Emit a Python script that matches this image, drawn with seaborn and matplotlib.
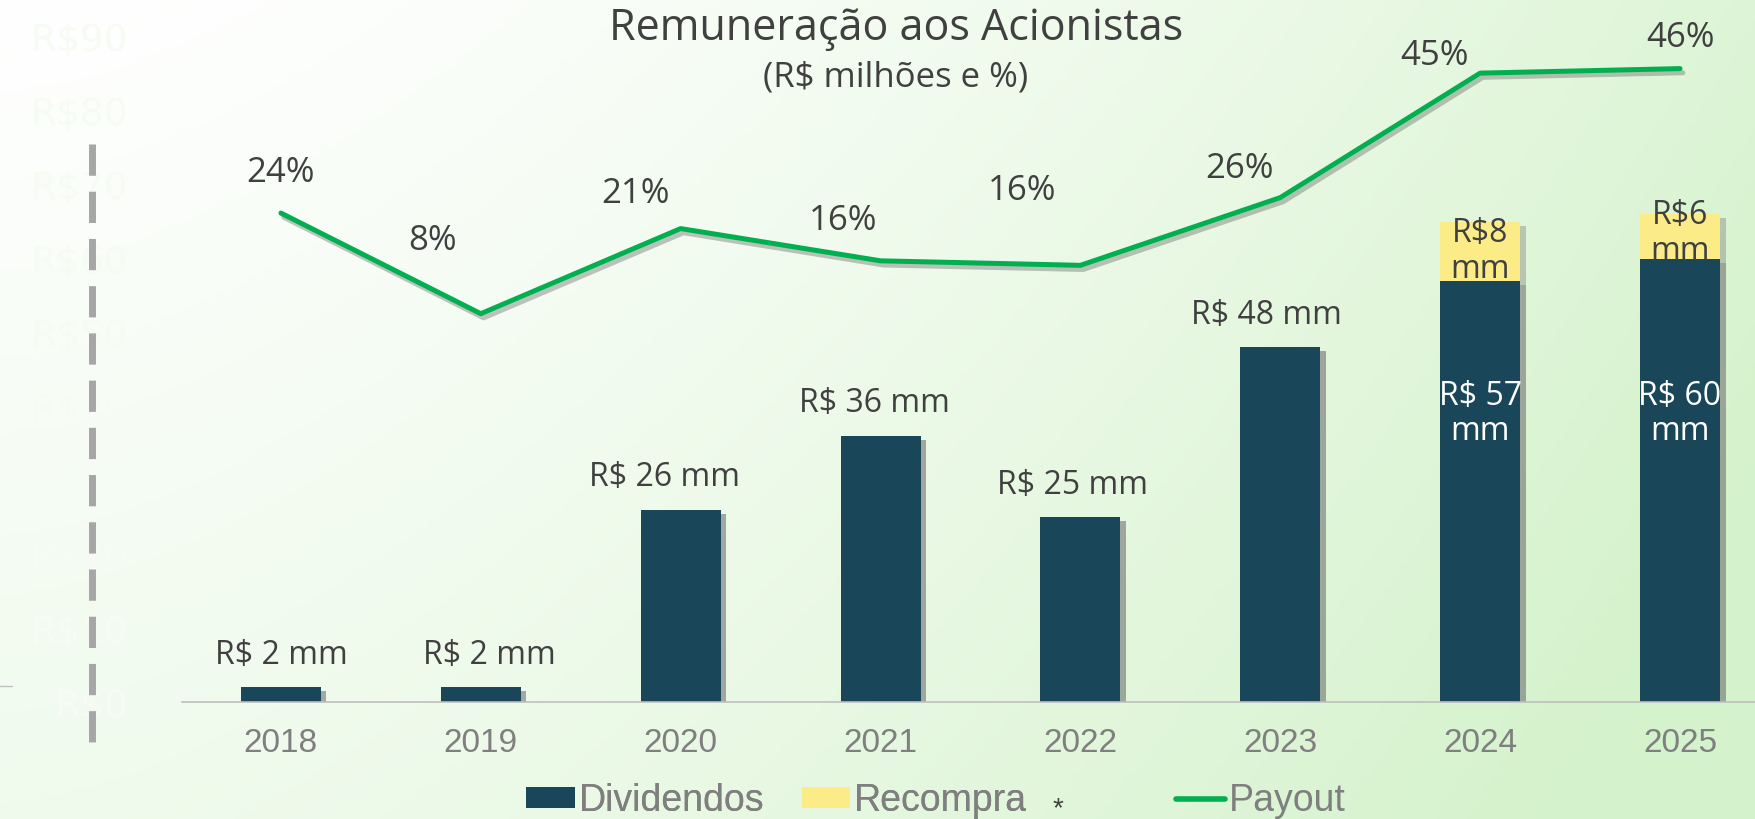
import numpy as np
import pandas as pd
import matplotlib
matplotlib.use("Agg")
import matplotlib.pyplot as plt
import seaborn as sns
from matplotlib import patheffects as pe
from matplotlib.lines import Line2D
from matplotlib.patches import Patch
from matplotlib import font_manager as fm

# ---------------- data ----------------
years = ["2018", "2019", "2020", "2021", "2022", "2023", "2024", "2025"]
dividendos = [2, 2, 26, 36, 25, 48, 57, 60]
recompra = [0, 0, 0, 0, 0, 0, 8, 6]
payout = [23.6, 8.0, 21.2, 16.2, 15.5, 26.0, 45.3, 46.0]
payout_labels = ["24%", "8%", "21%", "16%", "16%", "26%", "45%", "46%"]
div_labels = ["R$ 2 mm", "R$ 2 mm", "R$ 26 mm", "R$ 36 mm", "R$ 25 mm",
              "R$ 48 mm", "R$ 57\nmm", "R$ 60\nmm"]
rec_labels = ["", "", "", "", "", "", "R$8\nmm", "R$6\nmm"]
yticks = [0, 10, 20, 30, 40, 50, 60, 70, 80, 90]
ytick_labels = ["R$0", "R$10", "R$20", "R$30", "R$40", "R$50",
                "R$60", "R$70", "R$80", "R$90"]
legend_labels = ["Dividendos", "Recompra", "Payout"]
title = "Remuneração aos Acionistas"
subtitle = "(R$ milhões e %)"

# ---------------- style ----------------
TEAL = "#194759"
YELLOW = "#FBEC87"
GREEN = "#00B050"
DARK = "#404040"
GREY = "#7F7F7F"

sns.set_theme(style="white")
avail = {f.name for f in fm.fontManager.ttflist}
LABEL_FONT = ["Open Sans", "DejaVu Sans"]
TICK_FONT = ["Liberation Sans", "DejaVu Sans"]
LEG_FONT = ["Liberation Sans Narrow", "Liberation Sans", "DejaVu Sans"] \
    if "Liberation Sans Narrow" in avail else ["Liberation Sans", "DejaVu Sans"]
plt.rcParams["font.family"] = LABEL_FONT

W, H = 1756, 819
fig = plt.figure(figsize=(W / 100, H / 100), dpi=100)
fig.patch.set_facecolor("white")

# background gradient
bg = fig.add_axes([0, 0, 1, 1], zorder=-10)
gx, gy = np.meshgrid(np.linspace(0, 1, 400), np.linspace(0, 1, 200))
t = np.clip(0.8 * gx ** 1.6 + 0.36 * gy, 0, 1)[..., None]
white = np.array([1.0, 1.0, 1.0])
green = np.array([0.835, 0.95, 0.80])
img = white * (1 - t) + green * t
bg.imshow(img, extent=[0, 1, 0, 1], aspect="auto", origin="upper")
bg.axis("off")

# main axes
left = 182 / W
bottom = (H - 702) / H
ax = fig.add_axes([left, bottom, 1 - left, 665 / H], zorder=1)
ax.set_facecolor("none")

df = pd.DataFrame({"ano": years, "div": dividendos,
                   "total": np.add(dividendos, recompra)})
sns.barplot(data=df, x="ano", y="total", color=YELLOW, saturation=1,
            width=0.4, errorbar=None, ax=ax)
sns.barplot(data=df, x="ano", y="div", color=TEAL, saturation=1,
            width=0.4, errorbar=None, ax=ax)
for p in ax.patches:
    p.set_linewidth(0)
    p.set_path_effects([pe.SimplePatchShadow(offset=(4, -3), shadow_rgbFace="#6d6d6d",
                                             alpha=0.35), pe.Normal()])

ax.set_ylim(0, 90)
ax.set_xlim(-0.495, 7.38)
ax.set_xlabel("")
ax.set_ylabel("")
for s in ["top", "right", "left"]:
    ax.spines[s].set_visible(False)
ax.spines["bottom"].set_color("#BFBFBF")
ax.spines["bottom"].set_linewidth(1.2)
ax.set_yticks(yticks, ytick_labels)
ax.tick_params(axis="y", length=0, pad=39, labelsize=27,
               labelcolor=(0.965, 0.99, 0.955))
for lab in ax.get_yticklabels():
    lab.set_family("DejaVu Sans")
ax.tick_params(axis="x", length=0, pad=19, labelsize=24, labelcolor=GREY)
for lab in ax.get_xticklabels():
    lab.set_family(TICK_FONT)

# bar labels
bar_label_dx = [0, 9, -16, -6, -8, -14, 0, 0]
for i, (d, r) in enumerate(zip(dividendos, recompra)):
    if r > 0:
        ax.text(i, 39, div_labels[i], ha="center", va="center", color="white",
                fontsize=23, linespacing=1.1)
        ax.annotate(rec_labels[i], (i, d + r / 2), xytext=(0, 3 if i == 7 else 0),
                    textcoords="offset pixels", ha="center", va="center",
                    color=DARK, fontsize=23, linespacing=1.1)
    else:
        ax.annotate(div_labels[i], (i, d), xytext=(bar_label_dx[i], 32),
                    textcoords="offset pixels", ha="center", va="center",
                    color=DARK, fontsize=23)

# payout line
ax2 = ax.twinx()
ax2.set_zorder(2)
sns.lineplot(x=np.arange(len(years)), y=payout, color=GREEN, lw=3.6, ax=ax2,
             solid_capstyle="round",
             path_effects=[pe.SimpleLineShadow(offset=(2, -3), shadow_color="#555555",
                                               alpha=0.35), pe.Normal()])
ax2.set_ylim(-52.2, 50.9)
ax2.set_xlim(-0.495, 7.38)
ax2.axis("off")

label_offsets = [(0, 40), (-48, 73), (-45, 35), (-37, 40),
                 (-58, 74), (-41, 29), (-46, 17), (0, 31)]
for i, (v, lab) in enumerate(zip(payout, payout_labels)):
    ax2.annotate(lab, (i, v), xytext=label_offsets[i], textcoords="offset pixels",
                 ha="center", va="center", color=DARK, fontsize=25)

# dashed vertical line on the left
fig.add_artist(Line2D([92 / W, 92 / W], [1 - 144 / H, 1 - 742 / H],
                      transform=fig.transFigure, color="#A6A6A6", lw=5,
                      dashes=(4.5, 2.3)))
fig.add_artist(Line2D([0, 12 / W], [1 - 686 / H, 1 - 686 / H],
                      transform=fig.transFigure, color="#BFBFBF", lw=1))

# titles
fig.text(896 / W, 1 - 29 / H, title, ha="center", va="center",
         fontsize=31, color=DARK)
fig.text(896 / W, 1 - 77 / H, subtitle, ha="center", va="center",
         fontsize=25, color=DARK)

# legend (two groups to reproduce the uneven spacing)
leg_y = 1 - 801 / H
leg_kw = dict(frameon=False, prop={"family": LEG_FONT, "size": 27},
              labelcolor=GREY, handlelength=1.3, handleheight=0.5,
              handletextpad=0.1, borderpad=0, borderaxespad=0)
handles = [Patch(facecolor=TEAL, edgecolor="none"),
           Patch(facecolor=YELLOW, edgecolor="none"),
           Line2D([], [], color=GREEN, lw=4, solid_capstyle="round")]
leg1 = fig.legend(handles[:2], legend_labels[:2], loc="center left",
                  bbox_to_anchor=(526 / W, leg_y), ncol=2, columnspacing=1.0, **leg_kw)
fig.add_artist(leg1)
fig.legend(handles[2:], legend_labels[2:], loc="center left",
           bbox_to_anchor=(1176 / W, leg_y), **leg_kw)
fig.text(1058 / W, 1 - 809 / H, "*", ha="center", va="center",
         fontsize=20, color=DARK, family=TICK_FONT)

fig.savefig("out.png", dpi=100)
